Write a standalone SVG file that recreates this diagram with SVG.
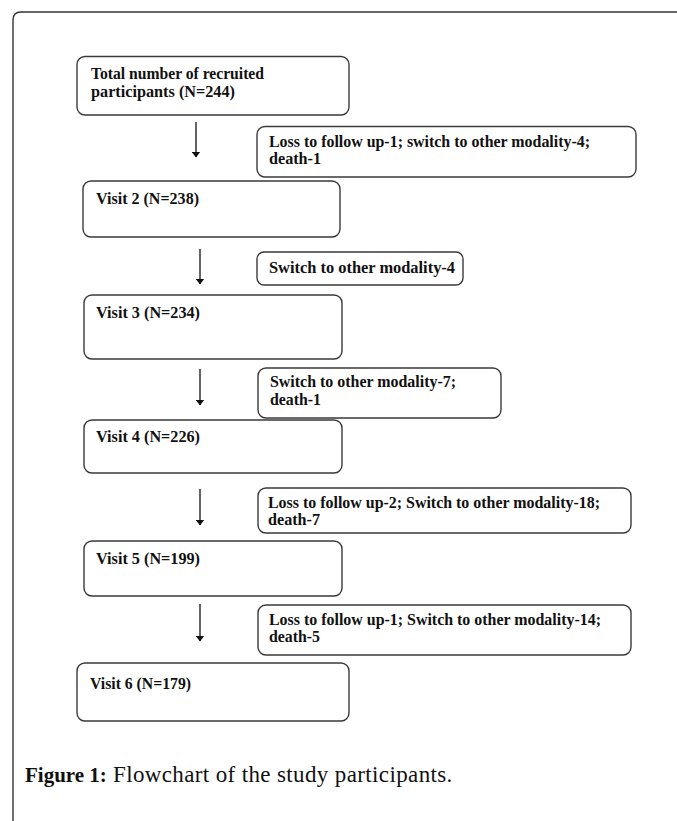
<svg xmlns="http://www.w3.org/2000/svg" width="677" height="821" viewBox="0 0 677 821">
<style>
.box{fill:#fff;stroke:#3a3a3a;stroke-width:1.4}
.t{font-family:"Liberation Serif","Times New Roman",serif;font-weight:bold;font-size:16px;fill:#111}
.conn{stroke:#111;stroke-width:1.3;fill:none}
.cap{font-family:"Liberation Serif","Times New Roman",serif;font-size:23px;fill:#111}
</style>
<defs>
<marker id="ah" viewBox="0 0 6 9" refX="5.5" refY="4.5" markerWidth="6" markerHeight="9" markerUnits="userSpaceOnUse" orient="auto">
<path d="M0,0 L6,4.5 L0,9 z" fill="#111"/>
</marker>
</defs>
<rect width="677" height="821" fill="#fff"/>
<path d="M13,830 L13,20 Q13,12 21,12 L690,12" fill="none" stroke="#333" stroke-width="1.4"/>

<g id="connectors">
<line class="conn" x1="196" y1="122" x2="196" y2="157" marker-end="url(#ah)"/>
<line class="conn" x1="200" y1="249" x2="200" y2="284" marker-end="url(#ah)"/>
<line class="conn" x1="200" y1="369" x2="200" y2="405" marker-end="url(#ah)"/>
<line class="conn" x1="200" y1="489" x2="200" y2="525" marker-end="url(#ah)"/>
<line class="conn" x1="200" y1="604" x2="200" y2="641" marker-end="url(#ah)"/>
</g>

<g id="total">
<rect class="box" x="77" y="56.5" width="272" height="58.5" rx="8"/>
<text class="t" x="91" y="79" textLength="173" lengthAdjust="spacingAndGlyphs">Total number of recruited</text>
<text class="t" x="91" y="97" textLength="144" lengthAdjust="spacingAndGlyphs">participants (N=244)</text>
</g>

<g id="loss1">
<rect class="box" x="257" y="126.5" width="379" height="50.5" rx="8"/>
<text class="t" x="269" y="147" textLength="321" lengthAdjust="spacingAndGlyphs">Loss to follow up-1; switch to other modality-4;</text>
<text class="t" x="269" y="164" textLength="52" lengthAdjust="spacingAndGlyphs">death-1</text>
</g>

<g id="visit2">
<rect class="box" x="83" y="181" width="257" height="56" rx="8"/>
<text class="t" x="96" y="204" textLength="103" lengthAdjust="spacingAndGlyphs">Visit 2 (N=238)</text>
</g>

<g id="loss2">
<rect class="box" x="257" y="252" width="206" height="33" rx="7"/>
<text class="t" x="269" y="273" textLength="186" lengthAdjust="spacingAndGlyphs">Switch to other modality-4</text>
</g>

<g id="visit3">
<rect class="box" x="84" y="295" width="258" height="64" rx="8"/>
<text class="t" x="96" y="318" textLength="104" lengthAdjust="spacingAndGlyphs">Visit 3 (N=234)</text>
</g>

<g id="loss3">
<rect class="box" x="258" y="368" width="243" height="50" rx="8"/>
<text class="t" x="270" y="387" textLength="186" lengthAdjust="spacingAndGlyphs">Switch to other modality-7;</text>
<text class="t" x="270" y="405" textLength="51" lengthAdjust="spacingAndGlyphs">death-1</text>
</g>

<g id="visit4">
<rect class="box" x="84" y="420" width="258" height="53" rx="8"/>
<text class="t" x="96" y="442" textLength="104" lengthAdjust="spacingAndGlyphs">Visit 4 (N=226)</text>
</g>

<g id="loss4">
<rect class="box" x="258" y="488" width="373" height="45" rx="8"/>
<text class="t" x="268" y="508" textLength="332" lengthAdjust="spacingAndGlyphs">Loss to follow up-2; Switch to other modality-18;</text>
<text class="t" x="268" y="525" textLength="52" lengthAdjust="spacingAndGlyphs">death-7</text>
</g>

<g id="visit5">
<rect class="box" x="84" y="541" width="258" height="55" rx="8"/>
<text class="t" x="96" y="564" textLength="104" lengthAdjust="spacingAndGlyphs">Visit 5 (N=199)</text>
</g>

<g id="loss5">
<rect class="box" x="258" y="605" width="373" height="50" rx="8"/>
<text class="t" x="269" y="625" textLength="332" lengthAdjust="spacingAndGlyphs">Loss to follow up-1; Switch to other modality-14;</text>
<text class="t" x="269" y="642" textLength="51" lengthAdjust="spacingAndGlyphs">death-5</text>
</g>

<g id="visit6">
<rect class="box" x="77" y="663" width="272" height="58" rx="8"/>
<text class="t" x="90" y="689" textLength="101" lengthAdjust="spacingAndGlyphs">Visit 6 (N=179)</text>
</g>

<g id="caption">
<text class="cap" x="25" y="782"><tspan font-weight="bold" font-size="21">Figure 1:</tspan><tspan letter-spacing="0.37"> Flowchart of the study participants.</tspan></text>
</g>
</svg>
